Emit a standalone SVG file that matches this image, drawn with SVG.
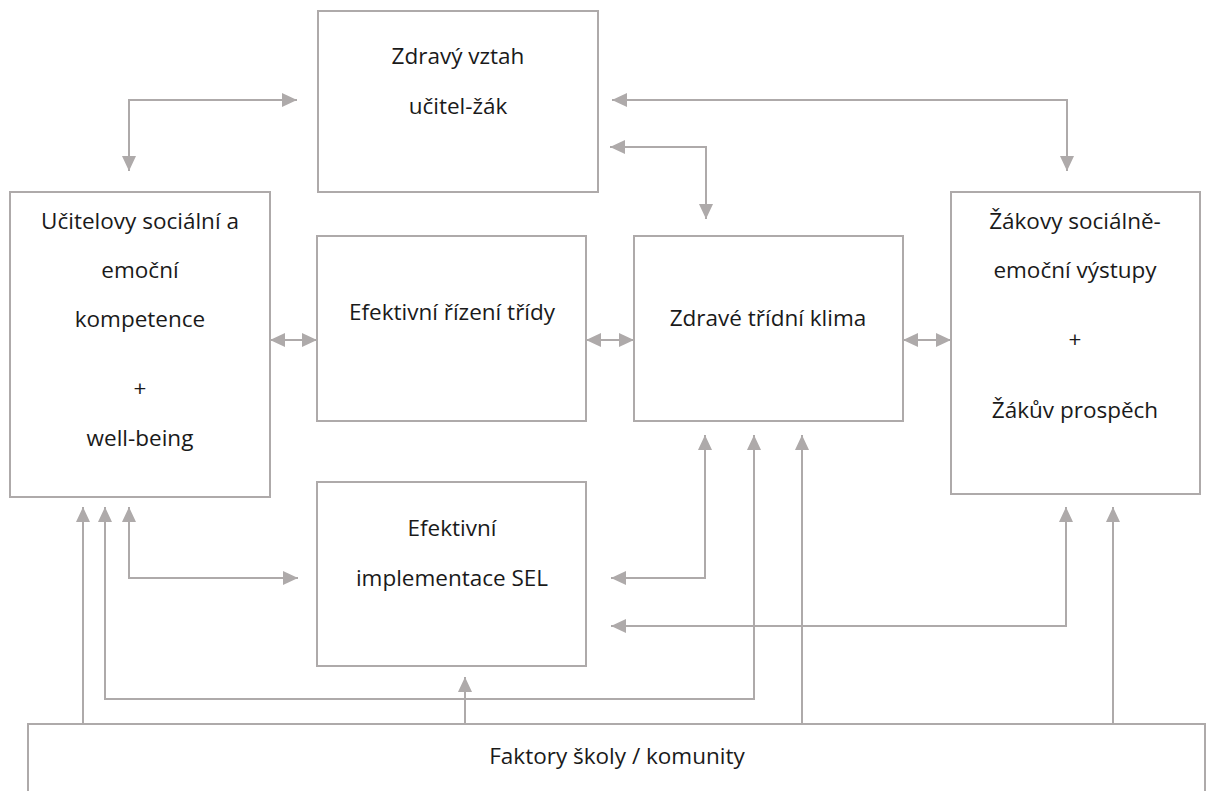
<svg xmlns="http://www.w3.org/2000/svg" width="1210" height="791" viewBox="0 0 1210 791">
<style>
.box{fill:#ffffff;stroke:#aeaaaa;stroke-width:2}
.c{fill:none;stroke:#aeaaaa;stroke-width:2}
text{font-family:"Open Sans","Liberation Sans",sans-serif;font-size:22.5px;fill:#1a1a1a;text-anchor:middle}
</style>
<defs>
<marker id="ah" viewBox="0 0 15 14" refX="15" refY="7" markerWidth="15" markerHeight="14" markerUnits="userSpaceOnUse" orient="auto-start-reverse">
<path d="M0,0 L15,7 L0,14 Z" fill="#aeaaaa"/>
</marker>
</defs>
<rect width="1210" height="791" fill="#ffffff"/>
<g id="connectors">
<path class="c" d="M129,171 V100 H297" marker-start="url(#ah)" marker-end="url(#ah)"/>
<path class="c" d="M612,100 H1067 V171" marker-start="url(#ah)" marker-end="url(#ah)"/>
<path class="c" d="M610,147 H706 V219" marker-start="url(#ah)" marker-end="url(#ah)"/>
<path class="c" d="M270,340 H317" marker-start="url(#ah)" marker-end="url(#ah)"/>
<path class="c" d="M586,340 H634" marker-start="url(#ah)" marker-end="url(#ah)"/>
<path class="c" d="M903,340 H951" marker-start="url(#ah)" marker-end="url(#ah)"/>
<path class="c" d="M83,724 V507" marker-end="url(#ah)"/>
<path class="c" d="M105,507 V699 H754 V435" marker-start="url(#ah)" marker-end="url(#ah)"/>
<path class="c" d="M129,507 V578 H298" marker-start="url(#ah)" marker-end="url(#ah)"/>
<path class="c" d="M465,724 V677" marker-end="url(#ah)"/>
<path class="c" d="M611,578 H705 V435" marker-start="url(#ah)" marker-end="url(#ah)"/>
<path class="c" d="M802,724 V435" marker-end="url(#ah)"/>
<path class="c" d="M611,626 H1066 V507" marker-start="url(#ah)" marker-end="url(#ah)"/>
<path class="c" d="M1113,724 V507" marker-end="url(#ah)"/>
</g>
<g id="vztah">
<rect class="box" x="318" y="11" width="280" height="181"/>
<text x="458" y="64">Zdravý vztah</text>
<text x="458" y="114">učitel-žák</text>
</g>
<g id="ucitel">
<rect class="box" x="10" y="192" width="260" height="305"/>
<text x="140" y="229">Učitelovy sociální a</text>
<text x="140" y="278">emoční</text>
<text x="140" y="327">kompetence</text>
<text x="140" y="396">+</text>
<text x="140" y="446">well-being</text>
</g>
<g id="rizeni">
<rect class="box" x="317" y="236" width="269" height="185"/>
<text x="452" y="320">Efektivní řízení třídy</text>
</g>
<g id="klima">
<rect class="box" x="634" y="236" width="269" height="185"/>
<text x="768" y="326">Zdravé třídní klima</text>
</g>
<g id="zak">
<rect class="box" x="951" y="192" width="249" height="302"/>
<text x="1075" y="229">Žákovy sociálně-</text>
<text x="1075" y="278">emoční výstupy</text>
<text x="1075" y="347">+</text>
<text x="1075" y="418">Žákův prospěch</text>
</g>
<g id="sel">
<rect class="box" x="317" y="482" width="269" height="184"/>
<text x="452" y="536">Efektivní</text>
<text x="452" y="586">implementace SEL</text>
</g>
<g id="faktory">
<rect class="box" x="28" y="724" width="1177" height="80"/>
<text x="617" y="764">Faktory školy / komunity</text>
</g>
</svg>
